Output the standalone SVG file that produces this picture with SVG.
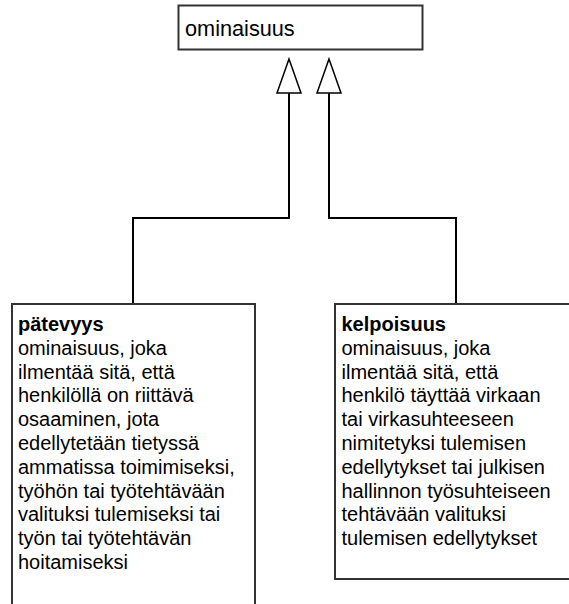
<svg xmlns="http://www.w3.org/2000/svg" width="569" height="604" viewBox="0 0 569 604">
<style>
.box{fill:#fff;stroke:#333;stroke-width:2}
.t{font-family:"Liberation Sans",Arial,sans-serif;font-size:20px;fill:#000}
.b{font-weight:bold}
.c{fill:none;stroke:#000;stroke-width:2}
.h{fill:#fff;stroke:#000;stroke-width:1.5}
</style>
<rect width="569" height="604" fill="#fff"/>
<g id="connectors">
<path class="c" d="M289 93V218H133V304"/>
<path class="c" d="M329 93V218H456V304"/>
<polygon class="h" points="289,59 277,93 301,93"/>
<polygon class="h" points="329,59 317,93 341,93"/>
</g>
<g id="ominaisuus">
<rect class="box" x="178.5" y="5.5" width="244" height="44"/>
<text class="t" x="185" y="36" style="font-size:21.7px">ominaisuus</text>
</g>
<g id="patevyys">
<rect class="box" x="12" y="304" width="243" height="320"/>
<text class="t" x="18" y="331"><tspan class="b">pätevyys</tspan><tspan x="18" dy="23.8">ominaisuus, joka</tspan><tspan x="18" dy="23.8">ilmentää sitä, että</tspan><tspan x="18" dy="23.8">henkilöllä on riittävä</tspan><tspan x="18" dy="23.8">osaaminen, jota</tspan><tspan x="18" dy="23.8">edellytetään tietyssä</tspan><tspan x="18" dy="23.8">ammatissa toimimiseksi,</tspan><tspan x="18" dy="23.8">työhön tai työtehtävään</tspan><tspan x="18" dy="23.8">valituksi tulemiseksi tai</tspan><tspan x="18" dy="23.8">työn tai työtehtävän</tspan><tspan x="18" dy="23.8">hoitamiseksi</tspan></text>
</g>
<g id="kelpoisuus">
<rect class="box" x="335" y="304" width="250" height="275"/>
<text class="t" x="341.5" y="331"><tspan class="b">kelpoisuus</tspan><tspan x="341.5" dy="23.8">ominaisuus, joka</tspan><tspan x="341.5" dy="23.8">ilmentää sitä, että</tspan><tspan x="341.5" dy="23.8">henkilö täyttää virkaan</tspan><tspan x="341.5" dy="23.8">tai virkasuhteeseen</tspan><tspan x="341.5" dy="23.8">nimitetyksi tulemisen</tspan><tspan x="341.5" dy="23.8">edellytykset tai julkisen</tspan><tspan x="341.5" dy="23.8">hallinnon työsuhteiseen</tspan><tspan x="341.5" dy="23.8">tehtävään valituksi</tspan><tspan x="341.5" dy="23.8">tulemisen edellytykset</tspan></text>
</g>
</svg>
